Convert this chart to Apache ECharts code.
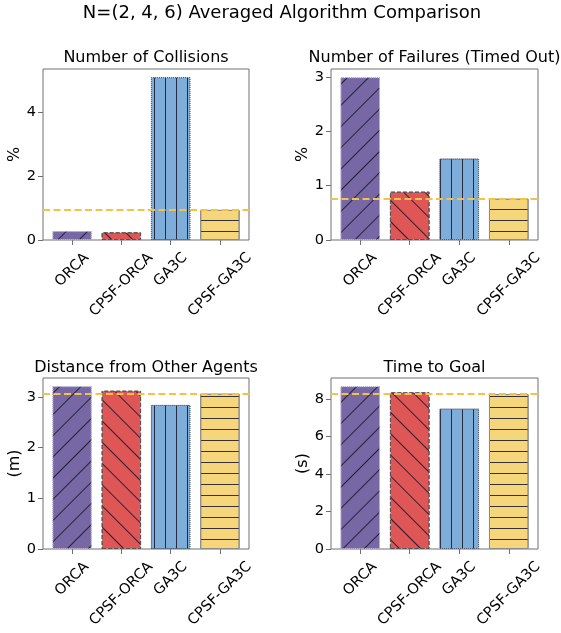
<!DOCTYPE html>
<html><head><meta charset="utf-8">
<script src="https://cdn.jsdelivr.net/npm/echarts@6/dist/echarts.min.js"></script>
<style>html,body{margin:0;padding:0;background:#fff}#c{width:561px;height:633px}</style>
</head><body><div id="c"></div>
<script>
const mainTitle = 'N=(2, 4, 6) Averaged Algorithm Comparison';
const categories = ['ORCA', 'CPSF-ORCA', 'GA3C', 'CPSF-GA3C'];
const panelTitles = ['Number of Collisions', 'Number of Failures (Timed Out)', 'Distance from Other Agents', 'Time to Goal'];
const yNames = ['%', '%', '(m)', '(s)'];
const collisions = [0.28, 0.24, 5.09, 0.94];
const failures = [3.00, 0.89, 1.50, 0.76];
const distance = [3.21, 3.12, 2.84, 3.06];
const timeToGoal = [8.68, 8.35, 7.48, 8.26];
const yTicksCollisions = [0, 2, 4];
const yTicksFailures = [0, 1, 2, 3];
const yTicksDistance = [0, 1, 2, 3];
const yTicksTime = [0, 2, 4, 6, 8];

const FONT = 'DejaVu Sans';
const dataSets = [collisions, failures, distance, timeToGoal];
const yTicks = [yTicksCollisions, yTicksFailures, yTicksDistance, yTicksTime];
const colors = ['#7767A4', '#DE5656', '#7FADDA', '#F5D67B'];
const edges = [
  { c: '#b4aecb', t: 'dotted' },
  { c: '#555555', t: 'dashed' },
  { c: '#4d5d72', t: 'dotted' },
  { c: '#8c8c8c', t: 'solid' }
];
const hatch = [
  { rotation: -Math.PI / 4, dashArrayX: [1, 0], dashArrayY: [1, 14] },
  { rotation: Math.PI / 4, dashArrayX: [1, 0], dashArrayY: [1, 14] },
  { rotation: 0, dashArrayX: [1, 10], dashArrayY: [1, 0] },
  { rotation: 0, dashArrayX: [1, 0], dashArrayY: [1, 10] }
];
const grids = [
  { left: 43, top: 69, width: 206, height: 171 },
  { left: 331, top: 69, width: 207, height: 171 },
  { left: 43, top: 378, width: 206, height: 171 },
  { left: 331, top: 378, width: 207, height: 171 }
];
const titleY = [58, 58, 367.5, 367.5];
const SPINE = '#707070';

const chart = echarts.init(document.getElementById('c'), null, { renderer: 'canvas' });

const option = {
  animation: false,
  textStyle: { fontFamily: FONT },
  grid: grids.map(g => Object.assign({ show: true, borderColor: SPINE, borderWidth: 1, backgroundColor: '#fff' }, g)),
  xAxis: grids.map((g, i) => ({
    type: 'value', gridIndex: i, min: -0.59, max: 3.59,
    splitLine: { show: false },
    axisLine: { show: false, onZero: false },
    axisTick: { show: true, customValues: categories.map((c, j) => j), length: 5, lineStyle: { color: SPINE } },
    axisLabel: { show: false }
  })),
  yAxis: grids.map((g, i) => ({
    type: 'value', gridIndex: i, min: 0, max: Math.max(...dataSets[i]) * 1.05,
    splitLine: { show: false },
    axisLine: { show: false, onZero: false },
    axisTick: { show: true, customValues: yTicks[i], length: 5, lineStyle: { color: SPINE } },
    axisLabel: { show: true, customValues: yTicks[i], fontSize: 14.5, color: '#000', margin: 7, fontFamily: FONT },
    name: yNames[i], nameLocation: 'middle', nameGap: 19,
    nameTextStyle: { fontSize: 16, color: '#000', fontFamily: FONT }
  })),
  series: grids.map((g, i) => ({
    type: 'bar', xAxisIndex: i, yAxisIndex: i, barWidth: '80%',
    silent: true,
    data: categories.map((c, j) => ({
      value: [j, dataSets[i][j]],
      itemStyle: {
        color: colors[j], borderColor: edges[j].c, borderWidth: 1, borderType: edges[j].t,
        decal: {
          symbol: 'rect', symbolSize: 1, color: 'rgba(20,20,40,0.85)',
          dashArrayX: hatch[j].dashArrayX, dashArrayY: hatch[j].dashArrayY, rotation: hatch[j].rotation
        }
      }
    })),
    markLine: {
      silent: true, symbol: ['none', 'none'], label: { show: false },
      lineStyle: { color: '#F6C244', width: 2, type: [7, 3.5] },
      emphasis: { disabled: true },
      data: [{ yAxis: dataSets[i][3] }]
    }
  }))
};
chart.setOption(option);

const ctx = document.createElement('canvas').getContext('2d');
const XFS = 14.5;
ctx.font = XFS + 'px "' + FONT + '"';
const graphics = [{
  type: 'text', x: 282, y: 13,
  style: { text: mainTitle, fontSize: 18, fontFamily: FONT, fill: '#000', align: 'center', verticalAlign: 'middle' }
}];
grids.forEach((g, i) => {
  graphics.push({
    type: 'text', x: g.left + g.width / 2, y: titleY[i],
    style: { text: panelTitles[i], fontSize: 16, fontFamily: FONT, fill: '#000', align: 'center', verticalAlign: 'middle' }
  });
  categories.forEach((c, j) => {
    const p = chart.convertToPixel({ xAxisIndex: i, yAxisIndex: i }, [j, 0]);
    const w = ctx.measureText(c).width;
    const h = XFS * 1.17;
    const half = (w + h) / (2 * Math.SQRT2);
    graphics.push({
      type: 'text', x: p[0], y: p[1] + 9.5 + half, rotation: Math.PI / 4,
      style: { text: c, fontSize: XFS, fontFamily: FONT, fill: '#000', align: 'center', verticalAlign: 'middle' }
    });
  });
});
chart.setOption({ graphic: graphics });
</script>
</body></html>
